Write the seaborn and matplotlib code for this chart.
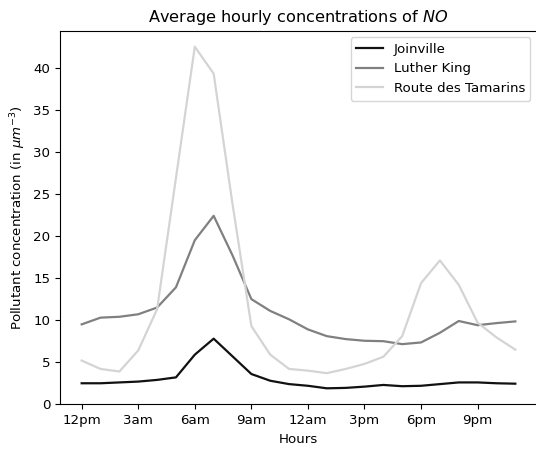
import matplotlib
matplotlib.use("Agg")
import matplotlib.pyplot as plt
import seaborn as sns
import pandas as pd
import numpy as np

hours = list(range(24))
joinville = [2.5, 2.5, 2.6, 2.7, 2.9, 3.2, 5.9, 7.8, 5.7, 3.6, 2.8, 2.4,
             2.2, 1.9, 1.95, 2.1, 2.3, 2.15, 2.2, 2.4, 2.6, 2.6, 2.5, 2.45]
luther_king = [9.5, 10.3, 10.4, 10.7, 11.5, 13.9, 19.5, 22.4, 17.7, 12.5, 11.1, 10.1,
               8.9, 8.1, 7.75, 7.55, 7.5, 7.15, 7.35, 8.5, 9.9, 9.4, 9.65, 9.85]
tamarins = [5.2, 4.2, 3.9, 6.4, 11.3, 26.9, 42.5, 39.3, 23.8, 9.3, 5.9, 4.2,
            4.0, 3.7, 4.2, 4.8, 5.65, 8.1, 14.4, 17.1, 14.2, 9.7, 7.95, 6.5]
stations = ["Joinville", "Luther King", "Route des Tamarins"]
tick_pos = [0, 3, 6, 9, 12, 15, 18, 21]
tick_labels = ["12pm", "3am", "6am", "9am", "12am", "3pm", "6pm", "9pm"]
colors = ["#111111", "#808080", "#d4d4d4"]

plt.rcParams["font.size"] = 9.65

df = pd.DataFrame({
    "hour": hours * 3,
    "value": joinville + luther_king + tamarins,
    "station": [stations[0]] * 24 + [stations[1]] * 24 + [stations[2]] * 24,
})

fig = plt.figure(figsize=(5.36, 4.54), dpi=100)
ax = fig.add_axes([60 / 536, (454 - 404.3) / 454, 477 / 536, (404.3 - 30.7) / 454])
sns.lineplot(data=df, x="hour", y="value", hue="station",
             palette=dict(zip(stations, colors)), linewidth=1.6, ax=ax)
ax.set_ylim(0, 44.4)
ax.set_xlim(-1.15, 24.15)
ax.set_xticks(tick_pos)
ax.set_xticklabels(tick_labels)
ax.set_yticks(range(0, 45, 5))
ax.set_xlabel("Hours")
ax.set_ylabel(r"Pollutant concentration (in $\mu m^{-3}$)")
ax.set_title(r"Average hourly concentrations of $NO$", fontsize=11.6)
ax.legend(loc="upper right", title=None)
fig.savefig("out.png", dpi=100)
